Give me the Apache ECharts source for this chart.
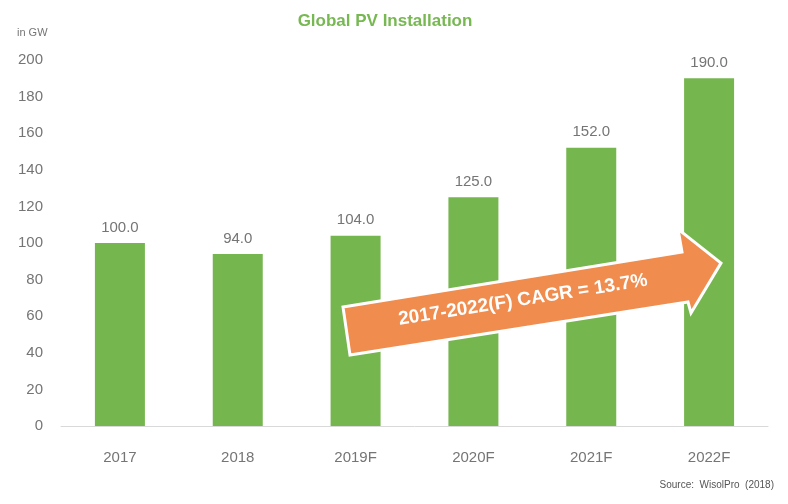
<!DOCTYPE html>
<html>
<head>
<meta charset="utf-8">
<script src="https://cdn.jsdelivr.net/npm/echarts@6/dist/echarts.min.js"></script>
<style>
  html, body { margin: 0; padding: 0; background: #fff; }
  #chart { width: 788px; height: 504px; }
</style>
</head>
<body>
<div id="chart"></div>
<script>
var years = ['2017', '2018', '2019F', '2020F', '2021F', '2022F'];
var installs = [100, 94, 104, 125, 152, 190];
var cagrText = '2017-2022(F) CAGR = 13.7%';

var FONT = '"Liberation Sans", sans-serif';
var GRAY = '#757575';

var chart = echarts.init(document.getElementById('chart'));
chart.setOption({
  animation: false,
  title: {
    text: 'Global PV Installation',
    left: 380,
    top: 8,
    textAlign: 'center',
    textStyle: { color: '#77b852', fontSize: 17, fontWeight: 'bold', fontFamily: FONT }
  },
  grid: { left: 61, right: 20, top: 60, bottom: 78 },
  xAxis: {
    type: 'category',
    data: years,
    axisLine: { lineStyle: { color: '#d9d9d9', width: 1 } },
    axisTick: { show: false },
    axisLabel: { color: GRAY, fontSize: 15, fontFamily: FONT, margin: 24 }
  },
  yAxis: {
    type: 'value',
    min: 0,
    max: 200,
    interval: 20,
    name: 'in GW',
    nameLocation: 'end',
    nameGap: 22,
    nameTextStyle: { color: GRAY, fontSize: 11, fontFamily: FONT, align: 'left', padding: [0, 0, 0, -44] },
    axisLine: { show: false },
    axisTick: { show: false },
    splitLine: { show: false },
    axisLabel: { color: GRAY, fontSize: 15, fontFamily: FONT, margin: 18 }
  },
  series: [{
    type: 'bar',
    data: installs,
    barWidth: 50,
    itemStyle: { color: '#76b64f' },
    label: {
      show: true,
      position: 'top',
      distance: 8,
      color: GRAY,
      fontSize: 15,
      fontFamily: FONT,
      formatter: function (p) { return p.value.toFixed(1); }
    }
  }],
  graphic: [
    {
      type: 'polygon',
      z: 100,
      shape: {
        points: [[343, 307], [682, 252], [678, 229], [721, 263], [691, 313], [688, 302], [350, 355]]
      },
      style: { fill: '#f08c4e', stroke: '#ffffff', lineWidth: 3 }
    },
    {
      type: 'text',
      z: 101,
      x: 523,
      y: 300,
      rotation: 9 * Math.PI / 180,
      style: {
        text: cagrText,
        fill: '#ffffff',
        font: 'bold 19px ' + FONT,
        align: 'center',
        verticalAlign: 'middle'
      }
    },
    {
      type: 'text',
      right: 14,
      top: 480,
      style: { text: 'Source:  WisolPro  (2018)', fill: '#555555', font: '10px ' + FONT }
    }
  ]
});
</script>
</body>
</html>
